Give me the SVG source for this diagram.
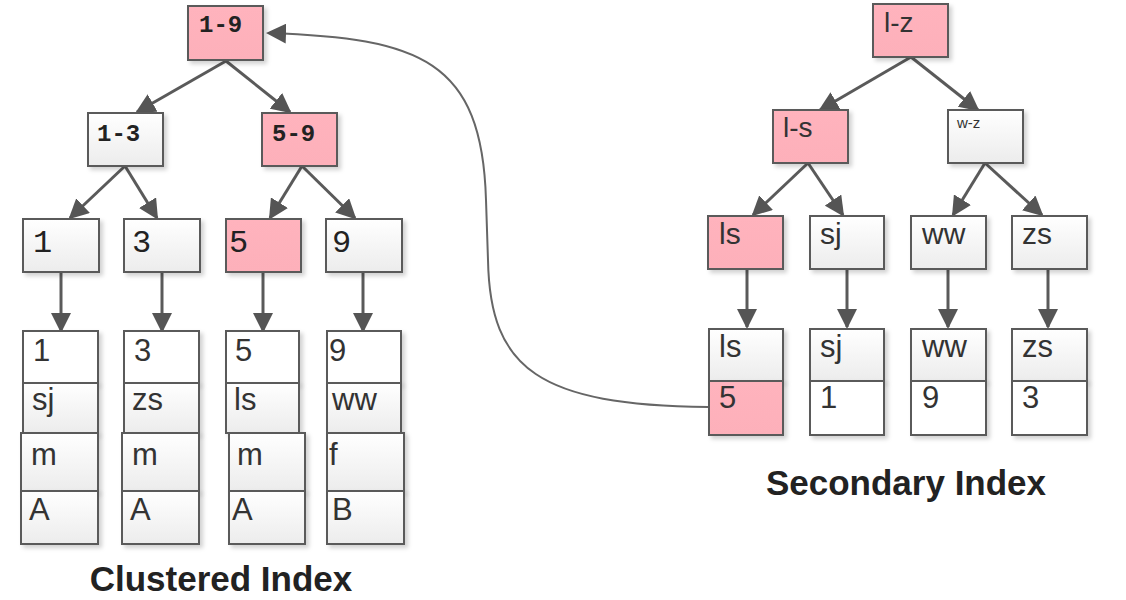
<svg xmlns="http://www.w3.org/2000/svg" width="1126" height="600" viewBox="0 0 1126 600">
<defs>
<linearGradient id="g" x1="0" y1="0" x2="0" y2="1"><stop offset="0" stop-color="#ffffff"/><stop offset="1" stop-color="#ececec"/></linearGradient>
<linearGradient id="p" x1="0" y1="0" x2="0" y2="1"><stop offset="0" stop-color="#ffb3bd"/><stop offset="1" stop-color="#fdb0ba"/></linearGradient>
<filter id="sh" x="-10%" y="-10%" width="130%" height="130%"><feDropShadow dx="3" dy="3" stdDeviation="2" flood-color="#000" flood-opacity="0.18"/></filter>
<marker id="ah2" viewBox="0 0 10 10" refX="9" refY="5" markerWidth="20" markerHeight="20" markerUnits="userSpaceOnUse" orient="auto"><path d="M0,0 L10,5 L0,10 Z" fill="#555"/></marker>
</defs>
<style>
rect{stroke:#5a5a5a;stroke-width:2;filter:url(#sh)}
.w{fill:url(#g)}
.wh{fill:#fff}
.pk{fill:url(#p)}
.mono{font-family:"Liberation Mono","DejaVu Sans Mono",monospace;fill:#222}
.b{font-weight:bold}
.s{font-family:"Liberation Sans",Arial,sans-serif;fill:#333}
.t{font-family:"Liberation Sans",Arial,sans-serif;font-weight:bold;font-size:35px;fill:#222;text-anchor:middle}
.c line,.c path{stroke:#5a5a5a;stroke-width:3;fill:none;marker-end:url(#ah2)}
.c path.curve{stroke:#666;stroke-width:2}
</style>

<g id="connectors" class="c">
<line x1="226" y1="61" x2="137" y2="112"/>
<line x1="226" y1="61" x2="290" y2="112"/>
<line x1="125" y1="166" x2="70" y2="218"/>
<line x1="125" y1="166" x2="157" y2="218"/>
<line x1="302" y1="166" x2="270" y2="218"/>
<line x1="302" y1="166" x2="355" y2="218"/>
<line x1="61" y1="272" x2="61" y2="331"/>
<line x1="162" y1="272" x2="162" y2="331"/>
<line x1="263" y1="272" x2="263" y2="331"/>
<line x1="363" y1="272" x2="363" y2="331"/>
<line x1="911" y1="57" x2="820" y2="110"/>
<line x1="911" y1="57" x2="978" y2="110"/>
<line x1="808" y1="163" x2="753" y2="215"/>
<line x1="808" y1="163" x2="843" y2="215"/>
<line x1="985" y1="163" x2="953" y2="215"/>
<line x1="985" y1="163" x2="1042" y2="215"/>
<line x1="747" y1="269" x2="747" y2="327"/>
<line x1="847" y1="269" x2="847" y2="327"/>
<line x1="948" y1="269" x2="948" y2="327"/>
<line x1="1048" y1="269" x2="1048" y2="327"/>
<path class="curve" d="M708,407 C540,405 490,370 488,260 L486,200 C482,60 420,38 268,33"/>
</g>

<g id="c-root"><rect class="pk" x="188" y="6" width="75" height="54"/><text class="mono b" x="199" y="32" font-size="24">1-9</text></g>
<g id="c-1-3"><rect class="w" x="88" y="113" width="75" height="53"/><text class="mono b" x="97" y="141" font-size="24">1-3</text></g>
<g id="c-5-9"><rect class="pk" x="262" y="113" width="75" height="53"/><text class="mono b" x="272" y="141" font-size="24">5-9</text></g>

<g id="c-leaf-1"><rect class="w" x="23" y="219" width="76" height="53"/><text class="mono" x="33" y="252" font-size="32">1</text></g>
<g id="c-leaf-3"><rect class="w" x="124" y="219" width="76" height="53"/><text class="mono" x="132" y="252" font-size="32">3</text></g>
<g id="c-leaf-5"><rect class="pk" x="226" y="219" width="75" height="53"/><text class="mono" x="229" y="252" font-size="32">5</text></g>
<g id="c-leaf-9"><rect class="w" x="326" y="219" width="76" height="53"/><text class="mono" x="332" y="252" font-size="32">9</text></g>

<g id="c-row-1" class="s" font-size="31">
<rect class="wh" x="23" y="331" width="75" height="52"/><text x="33" y="361">1</text>
<rect class="w" x="23" y="383" width="75" height="50"/><text x="32" y="410">sj</text>
<rect class="w" x="21" y="433" width="77" height="58"/><text x="31" y="465">m</text>
<rect class="w" x="21" y="491" width="77" height="53"/><text x="29" y="520">A</text>
</g>
<g id="c-row-3" class="s" font-size="31">
<rect class="wh" x="124" y="331" width="75" height="52"/><text x="134" y="361">3</text>
<rect class="w" x="124" y="383" width="75" height="50"/><text x="132" y="410">zs</text>
<rect class="w" x="122" y="433" width="77" height="58"/><text x="132" y="465">m</text>
<rect class="w" x="122" y="491" width="77" height="53"/><text x="130" y="520">A</text>
</g>
<g id="c-row-5" class="s" font-size="31">
<rect class="wh" x="226" y="331" width="73" height="52"/><text x="235" y="361">5</text>
<rect class="w" x="226" y="383" width="73" height="50"/><text x="234" y="410">ls</text>
<rect class="w" x="229" y="433" width="76" height="58"/><text x="237" y="465">m</text>
<rect class="w" x="229" y="491" width="76" height="53"/><text x="232" y="520">A</text>
</g>
<g id="c-row-9" class="s" font-size="31">
<rect class="wh" x="327" y="331" width="74" height="52"/><text x="329" y="361">9</text>
<rect class="w" x="327" y="383" width="74" height="50"/><text x="332" y="410">ww</text>
<rect class="w" x="327" y="433" width="77" height="58"/><text x="329" y="465">f</text>
<rect class="w" x="327" y="491" width="77" height="53"/><text x="332" y="520">B</text>
</g>

<g id="s-root"><rect class="pk" x="873" y="4" width="75" height="53"/><text class="s" x="884" y="32" font-size="28">l-z</text></g>
<g id="s-l-s"><rect class="pk" x="773" y="110" width="75" height="53"/><text class="s" x="783" y="137" font-size="28">l-s</text></g>
<g id="s-w-z"><rect class="w" x="948" y="110" width="75" height="53"/><text class="s" x="957" y="128" font-size="15">w-z</text></g>

<g id="s-leaf-ls"><rect class="pk" x="708" y="216" width="75" height="53"/><text class="s" x="719" y="244" font-size="30">ls</text></g>
<g id="s-leaf-sj"><rect class="w" x="810" y="216" width="74" height="53"/><text class="s" x="820" y="244" font-size="30">sj</text></g>
<g id="s-leaf-ww"><rect class="w" x="911" y="216" width="75" height="53"/><text class="s" x="922" y="244" font-size="30">ww</text></g>
<g id="s-leaf-zs"><rect class="w" x="1012" y="216" width="75" height="53"/><text class="s" x="1022" y="244" font-size="30">zs</text></g>

<g id="s-row-ls" class="s" font-size="31">
<rect class="w" x="709" y="329" width="74" height="52"/><text x="719" y="357">ls</text>
<rect class="pk" x="709" y="381" width="74" height="54"/><text x="719" y="408">5</text>
</g>
<g id="s-row-sj" class="s" font-size="31">
<rect class="w" x="810" y="329" width="74" height="52"/><text x="820" y="357">sj</text>
<rect class="wh" x="810" y="381" width="74" height="54"/><text x="820" y="408">1</text>
</g>
<g id="s-row-ww" class="s" font-size="31">
<rect class="w" x="911" y="329" width="75" height="52"/><text x="922" y="357">ww</text>
<rect class="wh" x="911" y="381" width="75" height="54"/><text x="922" y="408">9</text>
</g>
<g id="s-row-zs" class="s" font-size="31">
<rect class="w" x="1012" y="329" width="75" height="52"/><text x="1022" y="357">zs</text>
<rect class="wh" x="1012" y="381" width="75" height="54"/><text x="1022" y="408">3</text>
</g>

<text class="t" x="221" y="591">Clustered Index</text>
<text class="t" x="906" y="495">Secondary Index</text>
</svg>
